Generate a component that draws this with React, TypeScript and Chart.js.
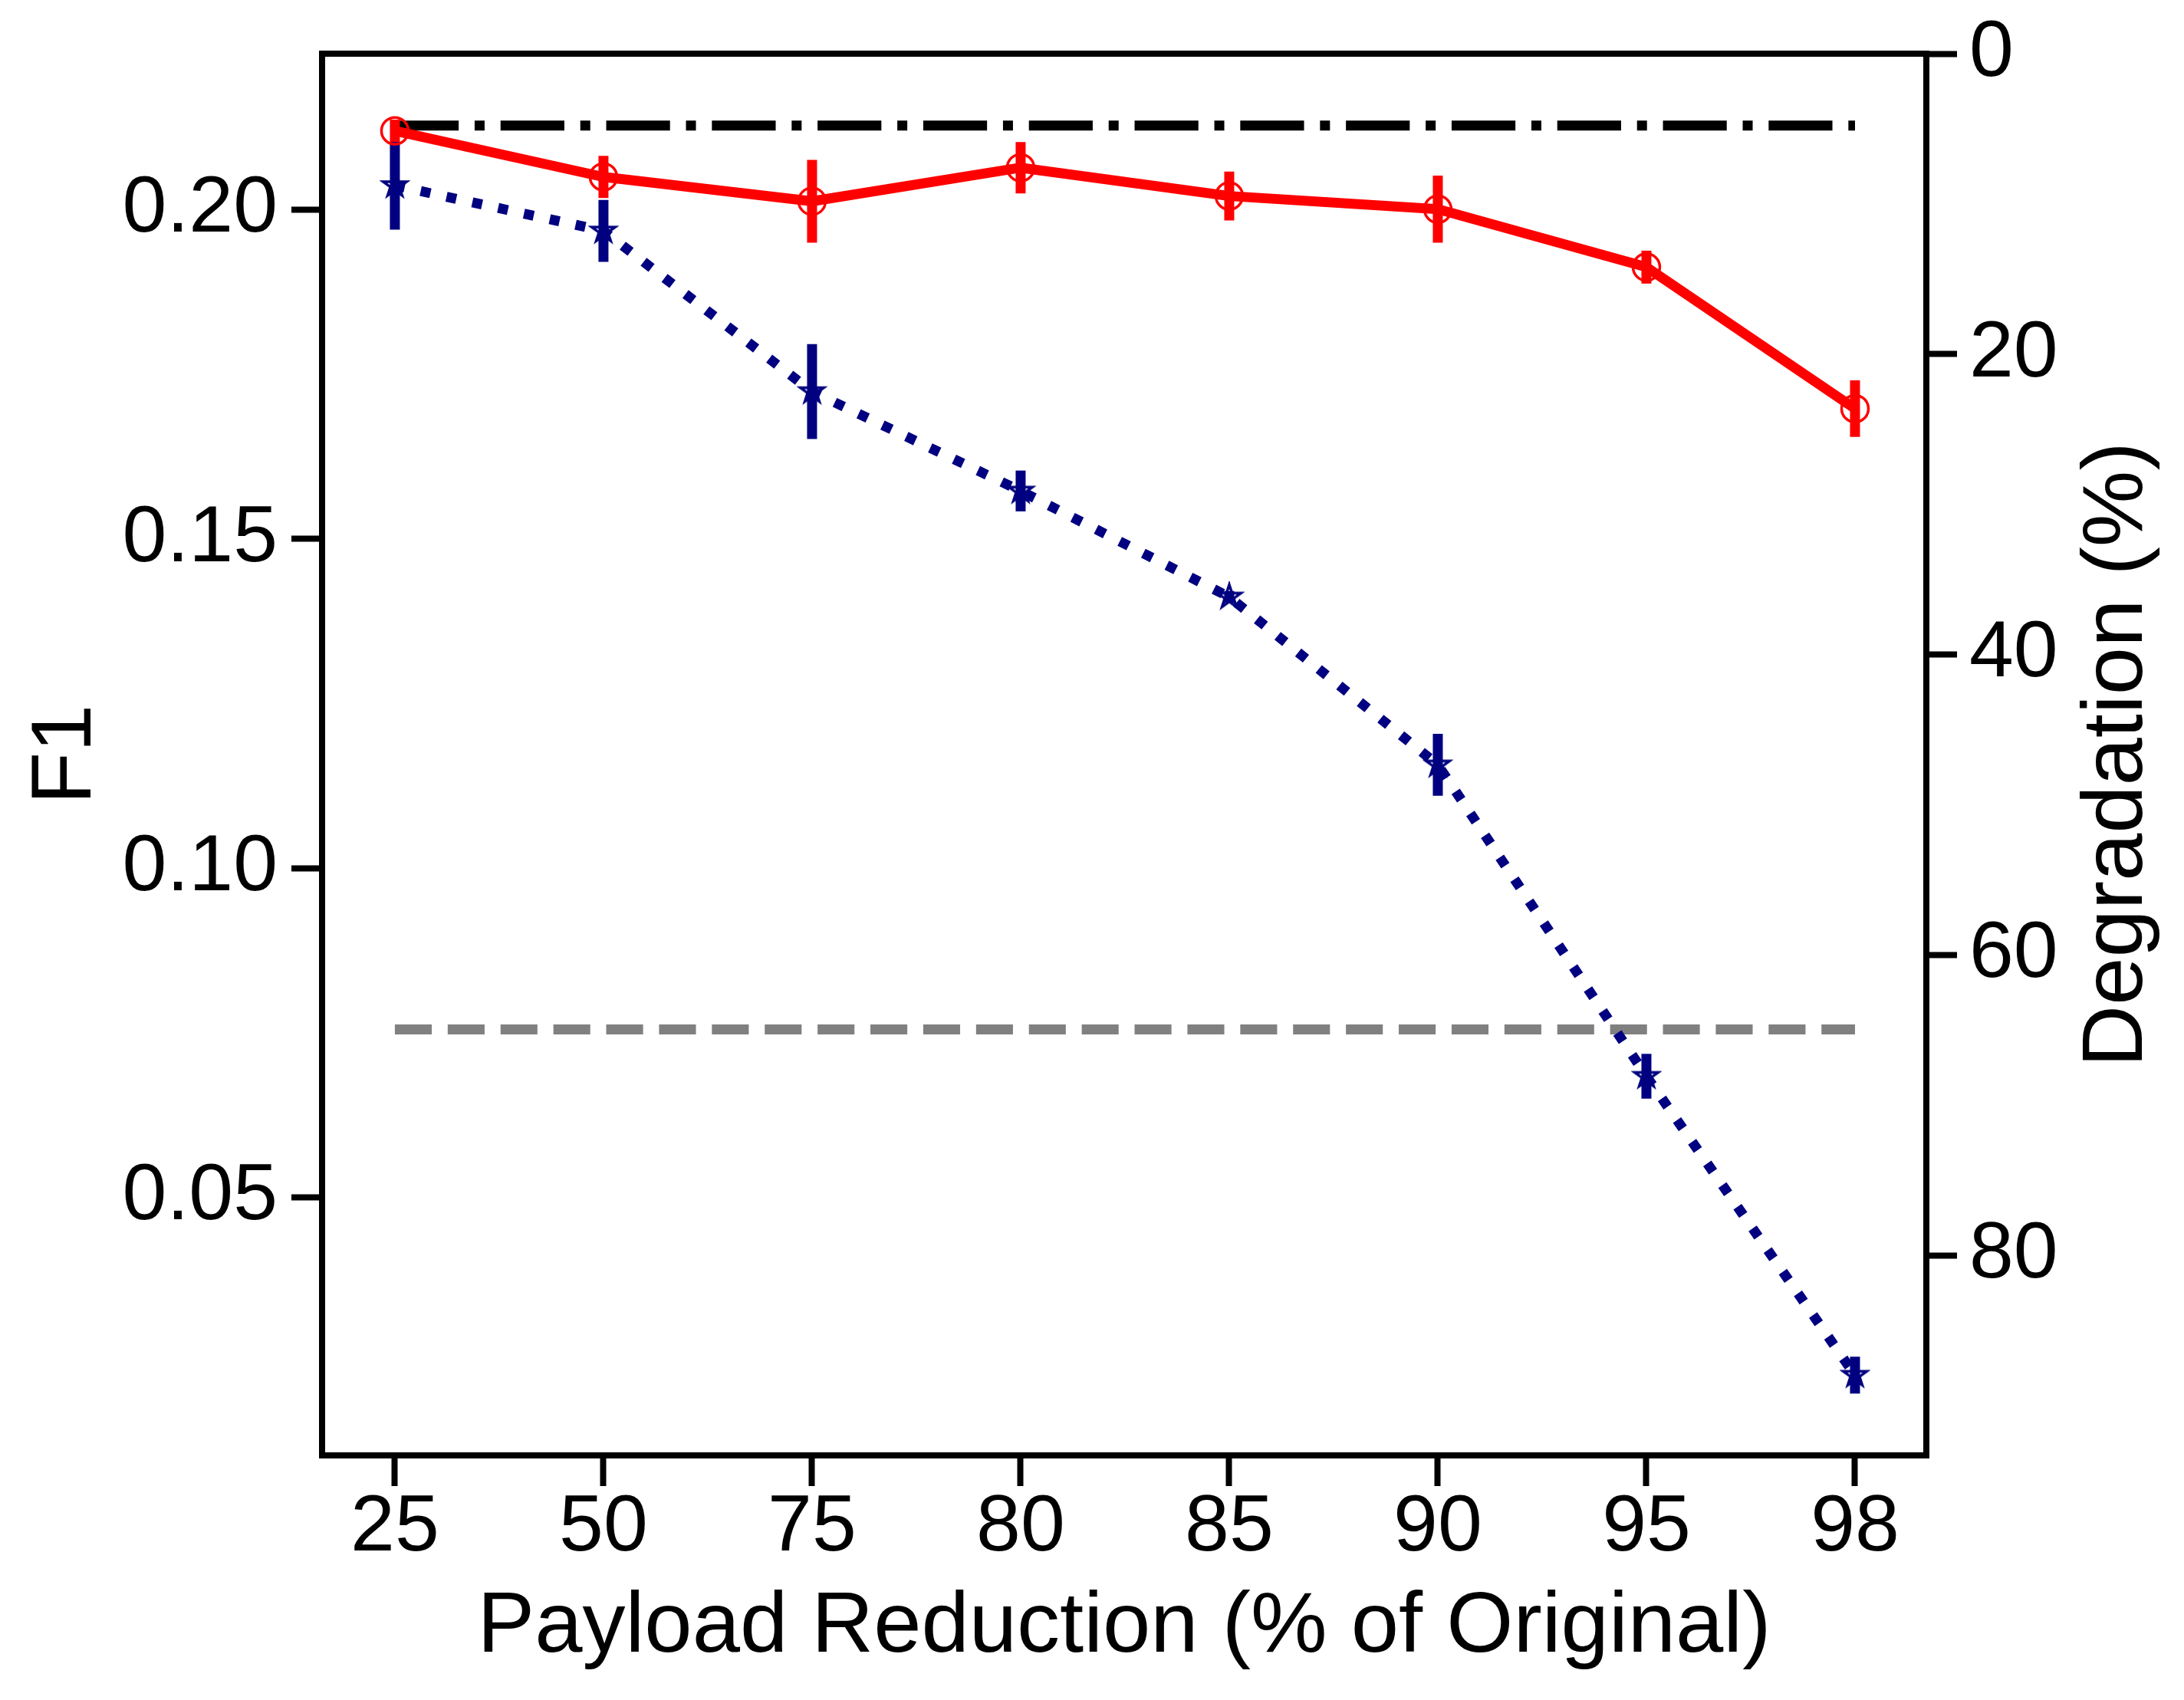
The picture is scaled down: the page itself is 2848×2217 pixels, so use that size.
import React, { useEffect, useRef } from "react";
import { Chart, registerables } from "chart.js";

Chart.register(...registerables);

// x categories (payload reduction, % of original)
const categories = ["25", "50", "75", "80", "85", "90", "95", "98"];

// red solid line, open circles
const circleF1 = [0.212, 0.205, 0.2013, 0.2064, 0.2021, 0.2001, 0.1913, 0.1698];
const circleErr = [0.0017, 0.0032, 0.0063, 0.0039, 0.0037, 0.0051, 0.0025, 0.0043];

// navy dotted line, stars
const starF1 = [0.2037, 0.1968, 0.1724, 0.1573, 0.1412, 0.1157, 0.0684, 0.023];
const starErr = [0.0067, 0.0047, 0.0072, 0.0031, 0.0009, 0.0047, 0.0034, 0.0028];

// horizontal reference lines
const fullPayloadF1 = 0.2128;
const floorF1 = 0.0755;

const f1Ticks = [0.05, 0.1, 0.15, 0.2];
const degradationTicks = [0, 20, 40, 60, 80];

const FONT = "'Liberation Sans', Arial, Helvetica, sans-serif";
const LW = 13;
const TICK_SIZE = 104;
const LABEL_SIZE = 112;

function makeStar(color: string) {
  const R = 16;
  const r = R * 0.382;
  const pad = 4;
  const size = 2 * (R + pad);
  const c = document.createElement("canvas");
  c.width = size;
  c.height = size;
  const g = c.getContext("2d")!;
  g.beginPath();
  for (let i = 0; i < 10; i++) {
    const rad = i % 2 === 0 ? R : r;
    const a = -Math.PI / 2 + (i * Math.PI) / 5;
    const px = size / 2 + rad * Math.cos(a);
    const py = size / 2 + rad * Math.sin(a);
    if (i === 0) g.moveTo(px, py);
    else g.lineTo(px, py);
  }
  g.closePath();
  g.strokeStyle = color;
  g.lineWidth = 3.5;
  g.lineJoin = "miter";
  g.stroke();
  return c;
}

const tickGrid = {
  drawOnChartArea: false,
  drawTicks: true,
  tickLength: 40,
  tickWidth: 8,
  tickColor: "#000",
};

const App: React.FC = () => {
  const canvasRef = useRef<HTMLCanvasElement | null>(null);

  useEffect(() => {
    if (!canvasRef.current) return;
    const ctx = canvasRef.current.getContext("2d");
    if (!ctx) return;

    const idx = categories.map((_, i) => i);

    const chart = new Chart(ctx, {
      type: "line",
      data: {
        datasets: [
          {
            data: circleF1.map((v, i) => ({ x: i, y: v })),
            borderColor: "#ff0000",
            borderWidth: LW,
            borderJoinStyle: "round",
            pointStyle: "circle",
            pointRadius: 17.5,
            pointBorderWidth: 3.5,
            pointBorderColor: "#ff0000",
            pointBackgroundColor: "rgba(0,0,0,0)",
            errorBars: circleErr,
            yAxisID: "y",
          } as any,
          {
            data: starF1.map((v, i) => ({ x: i, y: v })),
            borderColor: "#000080",
            borderWidth: LW,
            borderDash: [LW, 1.65 * LW],
            pointStyle: makeStar("#000080"),
            pointRadius: 17,
            errorBars: starErr,
            yAxisID: "y",
          } as any,
          {
            data: [
              { x: 0, y: floorF1 },
              { x: categories.length - 1, y: floorF1 },
            ],
            borderColor: "#808080",
            borderWidth: LW,
            borderDash: [3.7 * LW, 1.6 * LW],
            pointRadius: 0,
            yAxisID: "y",
          },
          {
            data: [
              { x: 0, y: fullPayloadF1 },
              { x: categories.length - 1, y: fullPayloadF1 },
            ],
            borderColor: "#000000",
            borderWidth: LW,
            borderDash: [6.4 * LW, 1.6 * LW, LW, 1.6 * LW],
            pointRadius: 0,
            yAxisID: "y",
          },
        ],
      },
      options: {
        animation: false,
        responsive: false,
        devicePixelRatio: 1,
        events: [],
        layout: { padding: { top: 67, left: 0, right: 0, bottom: 0 } },
        plugins: {
          legend: { display: false },
          tooltip: { enabled: false },
        },
        scales: {
          x: {
            type: "linear",
            position: "bottom",
            min: -0.349,
            max: 7.342,
            afterBuildTicks: (s: any) => {
              s.ticks = idx.map((v) => ({ value: v }));
            },
            afterFit: (s: any) => {
              s.height = 319;
            },
            ticks: {
              callback: (v: any) => categories[Math.round(Number(v))] ?? "",
              font: { family: FONT, size: TICK_SIZE, lineHeight: 1 },
              color: "#000",
              padding: 3,
              maxRotation: 0,
              autoSkip: false,
            },
            grid: tickGrid,
            border: { display: false },
            title: {
              display: true,
              text: "Payload Reduction (% of Original)",
              font: { family: FONT, size: LABEL_SIZE },
              color: "#000",
              padding: { top: 0, bottom: 27 },
            },
          },
          y: {
            type: "linear",
            position: "left",
            min: 0.01081,
            max: 0.22372,
            afterBuildTicks: (s: any) => {
              s.ticks = f1Ticks.map((v) => ({ value: v }));
            },
            afterFit: (s: any) => {
              s.width = 420;
            },
            ticks: {
              callback: (v: any) => Number(v).toFixed(2),
              font: { family: FONT, size: TICK_SIZE, lineHeight: 1 },
              color: "#000",
              padding: 18,
            },
            grid: tickGrid,
            border: { display: false },
            title: {
              display: true,
              text: "F1",
              font: { family: FONT, size: LABEL_SIZE },
              color: "#000",
              padding: { top: 20, bottom: 0 },
            },
          },
          y2: {
            type: "linear",
            position: "right",
            display: true,
            reverse: true,
            min: 0,
            max: 93.3,
            afterBuildTicks: (s: any) => {
              s.ticks = degradationTicks.map((v) => ({ value: v }));
            },
            afterFit: (s: any) => {
              s.width = 336;
            },
            ticks: {
              callback: (v: any) => String(v),
              font: { family: FONT, size: TICK_SIZE, lineHeight: 1 },
              color: "#000",
              padding: 16,
            },
            grid: tickGrid,
            border: { display: false },
            title: { display: false },
          },
        },
      } as any,
      plugins: [
        {
          id: "errorBars",
          beforeDatasetDraw: (c: any, args: any) => {
            const ds = c.data.datasets[args.index];
            if (!ds.errorBars) return;
            const xs = c.scales.x;
            const ys = c.scales.y;
            const g = c.ctx;
            g.save();
            g.strokeStyle = ds.borderColor;
            g.lineWidth = LW;
            g.lineCap = "butt";
            g.setLineDash([]);
            ds.data.forEach((p: any, i: number) => {
              const e = ds.errorBars[i];
              const px = xs.getPixelForValue(p.x);
              g.beginPath();
              g.moveTo(px, ys.getPixelForValue(p.y - e));
              g.lineTo(px, ys.getPixelForValue(p.y + e));
              g.stroke();
            });
            g.restore();
          },
        },
        {
          id: "frame",
          afterDatasetsDraw: (c: any) => {
            const { left, top, right, bottom } = c.chartArea;
            const g = c.ctx;
            g.save();
            g.strokeStyle = "#000";
            g.lineWidth = 8;
            g.setLineDash([]);
            g.lineJoin = "miter";
            g.strokeRect(left, top, right - left, bottom - top);
            g.restore();
          },
        },
        {
          // right-hand axis title, reading bottom-to-top like the left one
          id: "rightTitle",
          afterDraw: (c: any) => {
            const s = c.scales.y2;
            const g = c.ctx;
            g.save();
            g.translate(s.right - 86, (s.top + s.bottom) / 2);
            g.rotate(-Math.PI / 2);
            g.font = `${LABEL_SIZE}px ${FONT}`;
            g.fillStyle = "#000";
            g.textAlign = "center";
            g.textBaseline = "middle";
            g.fillText("Degradation (%)", 0, 0);
            g.restore();
          },
        },
      ],
    });

    return () => {
      chart.destroy();
    };
  }, []);

  return (
    <div style={{ position: "absolute", left: 0, top: 0, width: 2848, height: 2217, background: "#fff" }}>
      <canvas ref={canvasRef} width={2848} height={2217} style={{ width: 2848, height: 2217 }} />
    </div>
  );
};

export default App;
